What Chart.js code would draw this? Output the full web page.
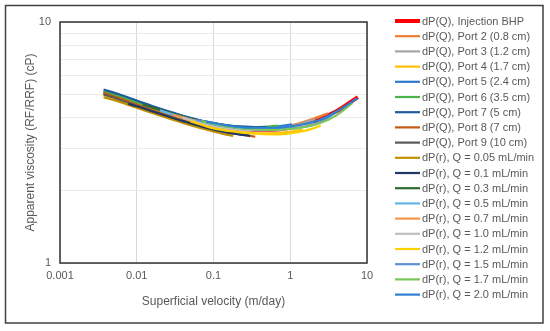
<!DOCTYPE html>
<html>
<head>
<meta charset="utf-8">
<script src="https://cdn.jsdelivr.net/npm/chart.js@4"></script>
<style>
  html, body { margin: 0; padding: 0; background: #fff; }
  #wrap { position: relative; width: 550px; height: 331px; }
</style>
</head>
<body>
<div id="wrap"><canvas id="c" width="550" height="331"></canvas></div>
<script>
// ---- Data ----
const seriesNames = [
  'dP(Q), Injection BHP', 'dP(Q), Port 2 (0.8 cm)', 'dP(Q), Port 3 (1.2 cm)', 'dP(Q), Port 4 (1.7 cm)',
  'dP(Q), Port 5 (2.4 cm)', 'dP(Q), Port 6 (3.5 cm)', 'dP(Q), Port 7 (5 cm)', 'dP(Q), Port 8 (7 cm)',
  'dP(Q), Port 9 (10 cm)', 'dP(r), Q = 0.05 mL/min', 'dP(r), Q = 0.1 mL/min', 'dP(r), Q = 0.3 mL/min',
  'dP(r), Q = 0.5 mL/min', 'dP(r), Q = 0.7 mL/min', 'dP(r), Q = 1.0 mL/min', 'dP(r), Q = 1.2 mL/min',
  'dP(r), Q = 1.5 mL/min', 'dP(r), Q = 1.7 mL/min', 'dP(r), Q = 2.0 mL/min'
];
const seriesColors = [
  '#FF0000', '#ED7D31', '#A5A5A5', '#FFC000', '#2E78D2', '#4CB348', '#1F5C99', '#C55A11', '#595959',
  '#BF8F00', '#203864', '#2E6B30', '#65B4E8', '#F79646', '#BFBFBF', '#FFD000', '#5B8FD8', '#7AC65A', '#2D80D2'
];
const seriesWidths = [4, 2.2, 2.2, 2.2, 2.2, 2.2, 2.2, 2.2, 2.2, 2.2, 2.2, 2.2, 2.2, 2.2, 2.2, 2.2, 2.2, 2.2, 2.2];

// velocity (m/day) and apparent viscosity (cP) per series
const xInjection = [0.0037, 0.006, 0.01, 0.02, 0.04, 0.08, 0.15, 0.3, 0.5, 1, 2, 4, 7.6];
const yInjection = [5.12, 4.87, 4.61, 4.28, 4.00, 3.78, 3.65, 3.57, 3.56, 3.64, 3.86, 4.26, 4.88];
const xPort2 = [0.0037, 0.006, 0.01, 0.02, 0.04, 0.08, 0.15, 0.3, 0.5, 1, 2, 3.1];
const yPort2 = [5.05, 4.82, 4.57, 4.25, 3.99, 3.79, 3.68, 3.62, 3.62, 3.72, 3.97, 4.18];
const xPort3 = [0.0037, 0.006, 0.01, 0.02, 0.04, 0.08, 0.15, 0.3, 0.5, 1, 2.1];
const yPort3 = [5.02, 4.80, 4.55, 4.23, 3.97, 3.76, 3.64, 3.58, 3.58, 3.68, 3.95];
const xPort4 = [0.0037, 0.006, 0.01, 0.02, 0.04, 0.08, 0.15, 0.3, 0.5, 1, 1.45];
const yPort4 = [5.00, 4.76, 4.50, 4.17, 3.90, 3.68, 3.55, 3.47, 3.45, 3.50, 3.58];
const xPort5 = [0.0037, 0.006, 0.01, 0.02, 0.04, 0.08, 0.15, 0.3, 0.5, 1.05];
const yPort5 = [5.20, 4.95, 4.68, 4.35, 4.07, 3.85, 3.73, 3.66, 3.66, 3.76];
const xPort6 = [0.0037, 0.006, 0.01, 0.02, 0.04, 0.08, 0.15, 0.3, 0.5, 0.7];
const yPort6 = [5.15, 4.90, 4.64, 4.31, 4.04, 3.82, 3.70, 3.66, 3.68, 3.72];
const xPort7 = [0.0037, 0.006, 0.01, 0.02, 0.04, 0.08, 0.15, 0.3, 0.5];
const yPort7 = [5.25, 5.00, 4.72, 4.37, 4.08, 3.86, 3.73, 3.67, 3.66];
const xPort8 = [0.0037, 0.006, 0.01, 0.02, 0.04, 0.08, 0.15, 0.25, 0.35];
const yPort8 = [5.08, 4.82, 4.54, 4.20, 3.90, 3.66, 3.50, 3.40, 3.34];
const xPort9 = [0.0037, 0.006, 0.01, 0.02, 0.04, 0.08, 0.15, 0.25];
const yPort9 = [5.00, 4.75, 4.48, 4.15, 3.86, 3.62, 3.47, 3.40];
const xQ005 = [0.0037, 0.006, 0.01, 0.02, 0.04, 0.08, 0.13, 0.18];
const yQ005 = [4.88, 4.66, 4.41, 4.09, 3.81, 3.58, 3.44, 3.37];
const xQ01 = [0.0077, 0.01, 0.02, 0.04, 0.08, 0.15, 0.3];
const yQ01 = [4.58, 4.47, 4.16, 3.88, 3.64, 3.48, 3.37];
const xQ03 = [0.012, 0.02, 0.04, 0.08, 0.15, 0.3, 0.6];
const yQ03 = [4.55, 4.32, 4.05, 3.80, 3.66, 3.58, 3.57];
const xQ05 = [0.02, 0.04, 0.08, 0.15, 0.3, 0.5, 1];
const yQ05 = [4.30, 4.02, 3.80, 3.68, 3.61, 3.61, 3.68];
const xQ07 = [0.03, 0.06, 0.12, 0.25, 0.5, 1, 1.5];
const yQ07 = [4.12, 3.88, 3.70, 3.60, 3.58, 3.64, 3.78];
const xQ10 = [0.04, 0.08, 0.15, 0.3, 0.5, 1, 2];
const yQ10 = [4.00, 3.76, 3.62, 3.55, 3.55, 3.62, 3.82];
const xQ12 = [0.05, 0.1, 0.2, 0.4, 0.7, 1.2, 2, 2.5];
const yQ12 = [3.88, 3.62, 3.50, 3.43, 3.42, 3.48, 3.62, 3.72];
const xQ15 = [0.06, 0.12, 0.25, 0.5, 1, 2, 3, 4];
const yQ15 = [3.92, 3.72, 3.62, 3.58, 3.62, 3.74, 3.98, 4.25];
const xQ17 = [0.07, 0.14, 0.3, 0.6, 1.2, 2.4, 4, 6.5];
const yQ17 = [3.88, 3.70, 3.60, 3.57, 3.62, 3.80, 4.10, 4.62];
const xQ20 = [0.08, 0.15, 0.3, 0.6, 1.2, 2.4, 4, 7.5];
const yQ20 = [3.86, 3.72, 3.64, 3.64, 3.72, 3.92, 4.25, 4.82];

const xTickLabels = ['0.001', '0.01', '0.1', '1', '10'];
const yTickLabels = ['1', '10'];
const yGridValues = [1, 2, 3, 4, 5, 6, 7, 8, 9, 10];

const allX = [xInjection, xPort2, xPort3, xPort4, xPort5, xPort6, xPort7, xPort8, xPort9,
  xQ005, xQ01, xQ03, xQ05, xQ07, xQ10, xQ12, xQ15, xQ17, xQ20];
const allY = [yInjection, yPort2, yPort3, yPort4, yPort5, yPort6, yPort7, yPort8, yPort9,
  yQ005, yQ01, yQ03, yQ05, yQ07, yQ10, yQ12, yQ15, yQ17, yQ20];

const datasets = seriesNames.map((name, i) => ({
  label: name,
  data: allX[i].map((x, k) => ({ x: x, y: allY[i][k] })),
  borderColor: seriesColors[i],
  backgroundColor: seriesColors[i],
  borderWidth: seriesWidths[i],
  pointRadius: 0,
  fill: false,
  cubicInterpolationMode: 'monotone',
  order: seriesNames.length - i
}));

const FONT = "'Liberation Sans', Arial, sans-serif";
const GREY = '#595959';

const frameAndLegend = {
  id: 'frameAndLegend',
  beforeDraw(chart) {
    const ctx = chart.ctx;
    ctx.save();
    ctx.fillStyle = '#fff';
    ctx.fillRect(0, 0, chart.width, chart.height);
    ctx.restore();
  },
  afterDatasetsDraw(chart) {
    const ctx = chart.ctx;
    const a = chart.chartArea;
    ctx.save();
    ctx.strokeStyle = '#333333';
    ctx.lineWidth = 1.5;
    ctx.strokeRect(a.left, a.top, a.right - a.left, a.bottom - a.top);
    ctx.restore();
  },
  afterDraw(chart) {
    const ctx = chart.ctx;
    ctx.save();
    // outer frame
    ctx.strokeStyle = '#404040';
    ctx.lineWidth = 1.5;
    ctx.strokeRect(5.5, 5.5, 537.5, 317.5);
    // legend
    ctx.font = '11px ' + FONT;
    ctx.textBaseline = 'middle';
    ctx.textAlign = 'left';
    chart.data.datasets.forEach((ds, i) => {
      const y = 21 + i * 15.2;
      ctx.strokeStyle = ds.borderColor;
      ctx.lineWidth = ds.borderWidth;
      ctx.beginPath();
      ctx.moveTo(395, y);
      ctx.lineTo(420, y);
      ctx.stroke();
      ctx.fillStyle = GREY;
      ctx.fillText(ds.label, 422, y + 0.5);
    });
    ctx.restore();
  }
};

new Chart(document.getElementById('c'), {
  type: 'line',
  data: { datasets: datasets },
  options: {
    responsive: false,
    animation: false,
    devicePixelRatio: 1,
    layout: { padding: { left: 0, top: 22, right: 183, bottom: 0 } },
    plugins: { legend: { display: false }, tooltip: { enabled: false } },
    scales: {
      x: {
        type: 'logarithmic',
        min: 0.001,
        max: 10,
        afterBuildTicks(scale) {
          scale.ticks = xTickLabels.map(v => ({ value: parseFloat(v) }));
        },
        afterFit(scale) { scale.height = 68; },
        grid: { color: '#D9D9D9', lineWidth: 1, drawTicks: false },
        border: { display: false },
        ticks: {
          padding: 6,
          color: GREY,
          font: { family: FONT, size: 11 },
          maxRotation: 0,
          autoSkip: false,
          callback(value) {
            const lbl = xTickLabels.find(t => Math.abs(parseFloat(t) - value) < value * 1e-6);
            return lbl === undefined ? '' : lbl;
          }
        },
        title: {
          display: true,
          text: 'Superficial velocity (m/day)',
          color: GREY,
          font: { family: FONT, size: 12 },
          padding: { top: 0, bottom: 22 }
        }
      },
      y: {
        type: 'logarithmic',
        min: 1,
        max: 10,
        afterBuildTicks(scale) {
          scale.ticks = yGridValues.map(v => ({ value: v }));
        },
        afterFit(scale) { scale.width = 60; },
        grid: {
          drawTicks: false,
          lineWidth: 1,
          color(ctx) {
            const v = ctx.tick ? ctx.tick.value : 0;
            return (v === 1 || v === 10) ? '#D9D9D9' : '#EBEBEB';
          }
        },
        border: { display: false },
        ticks: {
          padding: 9,
          color: GREY,
          font: { family: FONT, size: 11 },
          autoSkip: false,
          callback(value) {
            const lbl = yTickLabels.find(t => parseFloat(t) === value);
            return lbl === undefined ? '' : lbl;
          }
        },
        title: {
          display: true,
          text: 'Apparent viscosity (RF/RRF) (cP)',
          color: GREY,
          font: { family: FONT, size: 12 },
          padding: { top: 23, bottom: 0 }
        }
      }
    }
  },
  plugins: [frameAndLegend]
});
</script>
</body>
</html>
